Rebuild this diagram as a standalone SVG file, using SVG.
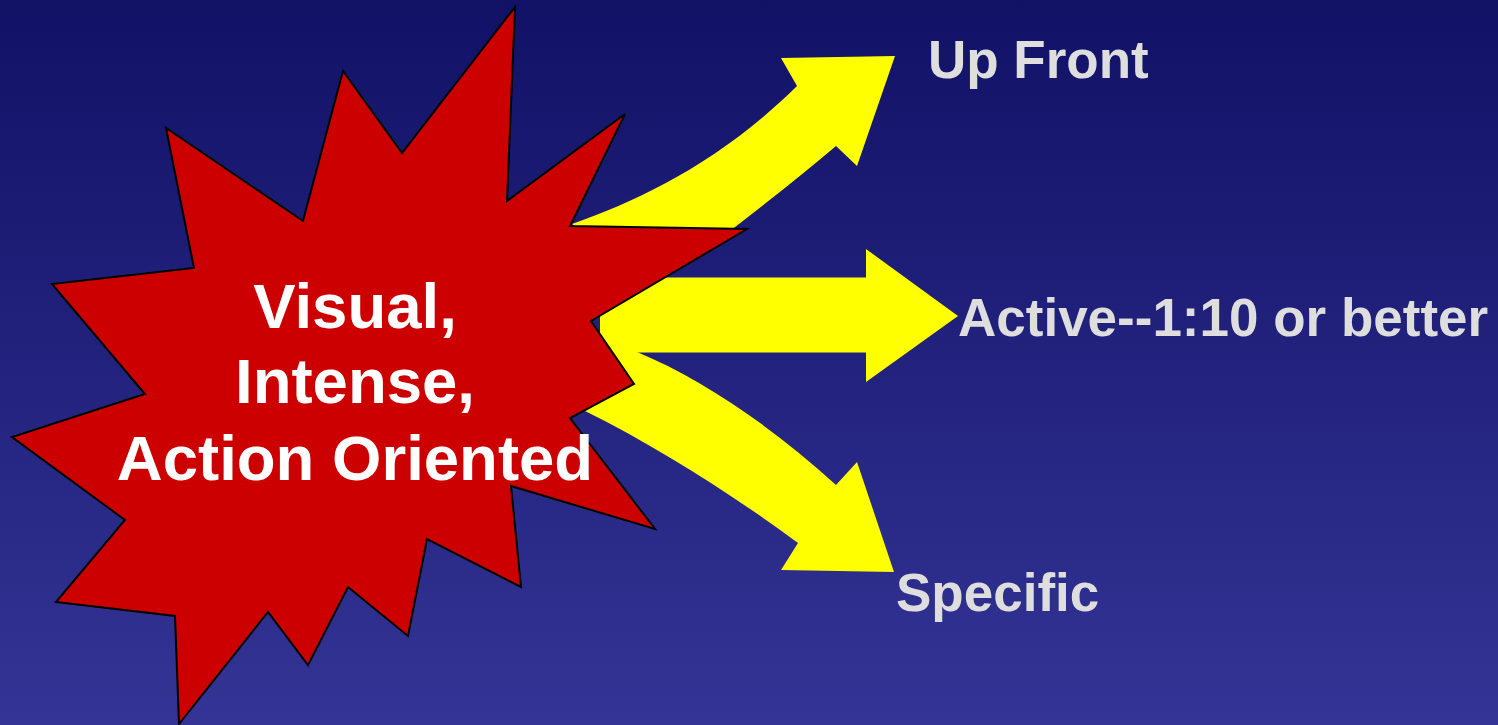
<svg xmlns="http://www.w3.org/2000/svg" width="1498" height="725" viewBox="0 0 1498 725">
  <defs>
    <linearGradient id="bg" x1="0" y1="0" x2="0" y2="1">
      <stop offset="0" stop-color="#111166"/>
      <stop offset="1" stop-color="#333495"/>
    </linearGradient>
  </defs>
  <style>
    .arrow { fill: #ffff00; stroke: none; }
    .burst { fill: #cc0000; stroke: #000000; stroke-width: 2; stroke-linejoin: miter; }
    .center { font-family: "Liberation Sans", Arial, sans-serif; font-weight: bold; font-size: 63.5px; fill: #ffffff; text-anchor: middle; }
    .label { font-family: "Liberation Sans", Arial, sans-serif; font-weight: bold; font-size: 53px; fill: #dedede; }
  </style>
  <rect x="0" y="0" width="1498" height="725" fill="url(#bg)"/>

  <g id="connectors">
    <path class="arrow" d="M572,224 C640,200 720,162 797,86 L781,58 L895,56 L857,166 L836,146 Q790,185 726,234 L585,234 Z"/>
    <path class="arrow" d="M600,277.5 L866,277.5 L866,249 L958,316 L866,382 L866,352.5 L600,352.5 Z"/>
    <path class="arrow" d="M610,345 L637,352 C700,378 770,425 836,485 L857,462 L894,572 L781,570 L798,543 C740,500 660,448 585,411 L600,395 Z"/>
  </g>

  <g id="node-burst">
    <polygon class="burst" points="515,7 507,201 625,114 570,226 747,229 591,321 634,384 570,418 655,529 511,486 521,587 427,539 408,636 348,587 308,665 268,612 179,724 175,616 56,602 125,520 12,437 145,394 52,284 194,268 166,128 303,221 343,71 402,153"/>
    <text class="center" x="355" y="328">Visual,</text>
    <text class="center" x="355" y="403">Intense,</text>
    <text class="center" x="355" y="480">Action Oriented</text>
  </g>

  <g id="node-upfront">
    <text class="label" x="928" y="78">Up Front</text>
  </g>
  <g id="node-active">
    <text class="label" x="958" y="336">Active--1:10 or better</text>
  </g>
  <g id="node-specific">
    <text class="label" x="896" y="611">Specific</text>
  </g>
</svg>
